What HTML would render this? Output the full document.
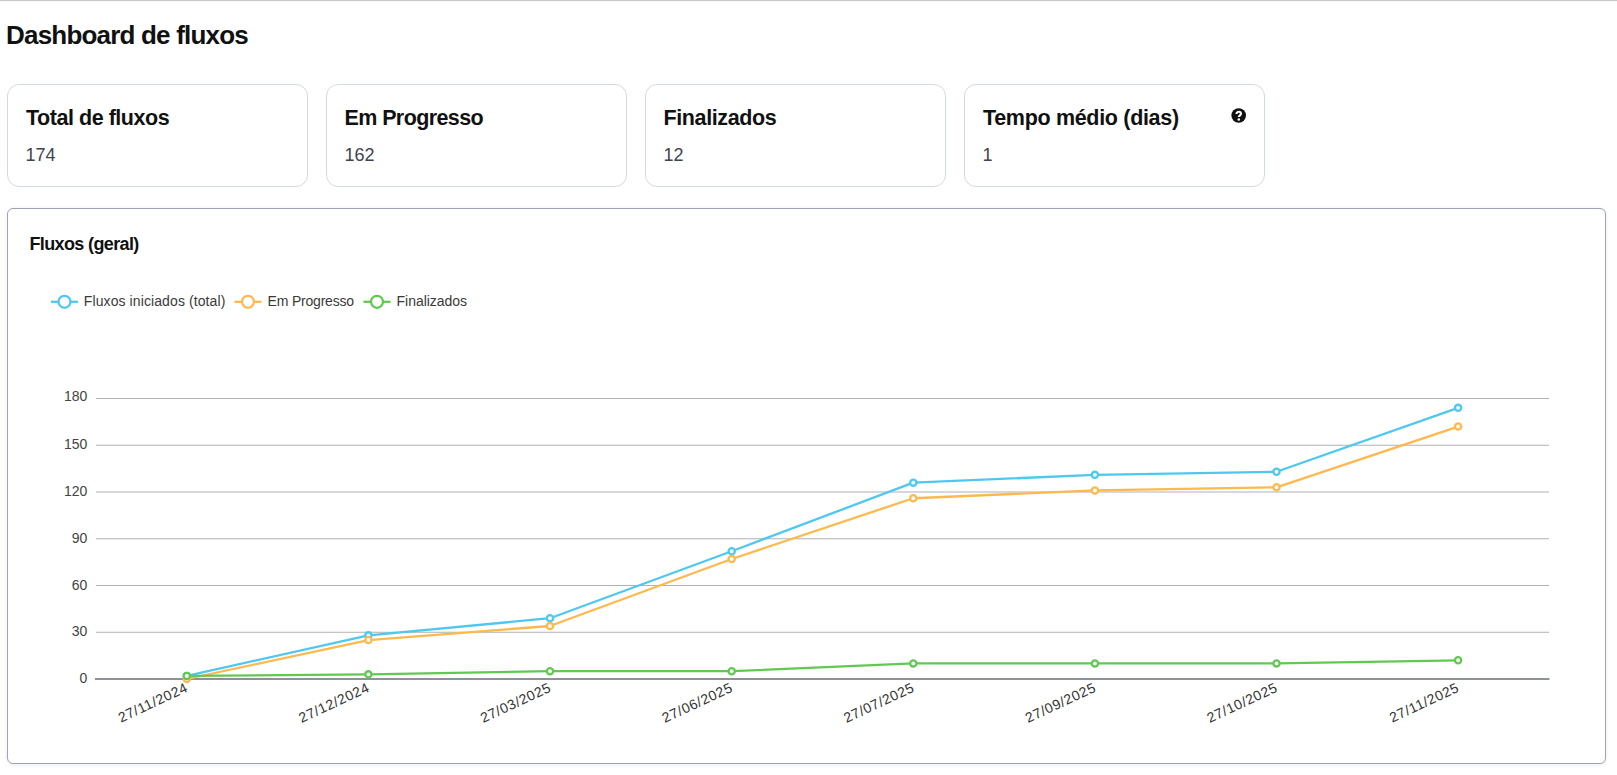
<!DOCTYPE html>
<html>
<head>
<meta charset="utf-8">
<style>
html,body{margin:0;padding:0;background:#fff;width:1617px;height:775px;overflow:hidden;position:relative;font-family:"Liberation Sans",sans-serif;}
.topline{position:absolute;left:0;top:0;width:1617px;height:1px;background:#c8c8c8;}
.topline2{position:absolute;left:0;top:1px;width:1617px;height:1px;background:#fafafa;}
h1{position:absolute;margin:0;left:6px;top:22px;font-size:26px;font-weight:bold;color:#111;letter-spacing:-0.8px;line-height:1;white-space:nowrap;}
.card{position:absolute;top:84px;width:299px;height:101px;border:1px solid #d3d9e3;border-radius:12px;background:#fff;}
.ctitle{position:absolute;left:18px;top:23px;font-size:21.5px;font-weight:bold;color:#111;line-height:1;white-space:nowrap;}
.cval{position:absolute;left:17.6px;top:61px;font-size:18px;color:#40444c;line-height:1;white-space:nowrap;}
.chart{position:absolute;left:7px;top:208px;width:1597px;height:554px;border:1px solid #9ca4b5;border-radius:6px;background:#fff;box-shadow:0 1px 4px rgba(0,0,0,0.08);}
.chtitle{position:absolute;left:21.4px;top:25.5px;font-size:18px;font-weight:bold;color:#111;line-height:1;letter-spacing:-0.62px;white-space:nowrap;}
svg{position:absolute;left:0;top:0;}
</style>
</head>
<body>
<div class="topline"></div><div class="topline2"></div>
<h1>Dashboard de fluxos</h1>
<div class="card" style="left:7px;"><div class="ctitle" style="letter-spacing:-0.46px">Total de fluxos</div><div class="cval">174</div></div>
<div class="card" style="left:326px;"><div class="ctitle" style="left:17.5px;letter-spacing:-0.6px">Em Progresso</div><div class="cval">162</div></div>
<div class="card" style="left:645px;"><div class="ctitle" style="left:17.5px;letter-spacing:-0.38px">Finalizados</div><div class="cval">12</div></div>
<div class="card" style="left:964px;"><div class="ctitle" style="letter-spacing:-0.32px">Tempo médio (dias)</div><div class="cval">1</div>
<svg style="left:265px;top:22px" width="18" height="18" viewBox="0 0 18 18"><circle cx="8.7" cy="8.5" r="7.3" fill="#111"/><path d="M6.5 7.1 C6.5 5.7 7.5 4.8 8.8 4.8 C10.1 4.8 11.0 5.7 11.0 6.8 C11.0 8.2 8.8 8.5 8.8 10.1" fill="none" stroke="#fff" stroke-width="2.1"/><circle cx="8.8" cy="12.5" r="1.25" fill="#fff"/></svg>
</div>
<div class="chart"><div class="chtitle">Fluxos (geral)</div></div>
<svg width="1617" height="775" viewBox="0 0 1617 775">
  <g stroke="#aeb1b7" stroke-width="1" fill="none"><line x1="96" y1="398.5" x2="1549" y2="398.5"/><line x1="96" y1="445.25" x2="1549" y2="445.25"/><line x1="96" y1="492.0" x2="1549" y2="492.0"/><line x1="96" y1="538.75" x2="1549" y2="538.75"/><line x1="96" y1="585.5" x2="1549" y2="585.5"/><line x1="96" y1="632.25" x2="1549" y2="632.25"/></g>
  <line x1="95" y1="679.0" x2="1549.5" y2="679.0" stroke="#8e9198" stroke-width="1.9"/>
  <g font-family="Liberation Sans" font-size="14" fill="#444" text-anchor="end"><text x="87.3" y="400.5">180</text><text x="87.3" y="449.25">150</text><text x="87.3" y="496.0">120</text><text x="87.3" y="542.75">90</text><text x="87.3" y="589.5">60</text><text x="87.3" y="636.25">30</text><text x="87.3" y="683.0">0</text></g>
  <g font-family="Liberation Sans" font-size="14" fill="#333" text-anchor="end" letter-spacing="0.6"><text transform="translate(186.8,686.4) rotate(-25)" y="5">27/11/2024</text><text transform="translate(368.4,686.4) rotate(-25)" y="5">27/12/2024</text><text transform="translate(550,686.4) rotate(-25)" y="5">27/03/2025</text><text transform="translate(731.7,686.4) rotate(-25)" y="5">27/06/2025</text><text transform="translate(913.3,686.4) rotate(-25)" y="5">27/07/2025</text><text transform="translate(1094.9,686.4) rotate(-25)" y="5">27/09/2025</text><text transform="translate(1276.5,686.4) rotate(-25)" y="5">27/10/2025</text><text transform="translate(1458.1,686.4) rotate(-25)" y="5">27/11/2025</text></g>
  <g fill="none" stroke-width="2.3" stroke-linejoin="round"><polyline stroke="#4ec8ee" points="186.8,675.88 368.4,635.37 550,618.23 731.7,551.22 913.3,482.65 1094.9,474.86 1276.5,471.74 1458.1,407.85"/></g><g fill="#fff" stroke-width="2.3"><g stroke="#4ec8ee"><circle cx="186.8" cy="675.88" r="3.1"/><circle cx="368.4" cy="635.37" r="3.1"/><circle cx="550" cy="618.23" r="3.1"/><circle cx="731.7" cy="551.22" r="3.1"/><circle cx="913.3" cy="482.65" r="3.1"/><circle cx="1094.9" cy="474.86" r="3.1"/><circle cx="1276.5" cy="471.74" r="3.1"/><circle cx="1458.1" cy="407.85" r="3.1"/></g></g>
  <g fill="none" stroke-width="2.3" stroke-linejoin="round"><polyline stroke="#fdb94e" points="186.8,679.0 368.4,640.04 550,626.02 731.7,559.01 913.3,498.23 1094.9,490.44 1276.5,487.32 1458.1,426.55"/></g><g fill="#fff" stroke-width="2.3"><g stroke="#fdb94e"><circle cx="186.8" cy="679.0" r="3.1"/><circle cx="368.4" cy="640.04" r="3.1"/><circle cx="550" cy="626.02" r="3.1"/><circle cx="731.7" cy="559.01" r="3.1"/><circle cx="913.3" cy="498.23" r="3.1"/><circle cx="1094.9" cy="490.44" r="3.1"/><circle cx="1276.5" cy="487.32" r="3.1"/><circle cx="1458.1" cy="426.55" r="3.1"/></g></g>
  <g fill="none" stroke-width="2.3" stroke-linejoin="round"><polyline stroke="#61c952" points="186.8,675.88 368.4,674.33 550,671.21 731.7,671.21 913.3,663.42 1094.9,663.42 1276.5,663.42 1458.1,660.3"/></g><g fill="#fff" stroke-width="2.3"><g stroke="#61c952"><circle cx="186.8" cy="675.88" r="3.1"/><circle cx="368.4" cy="674.33" r="3.1"/><circle cx="550" cy="671.21" r="3.1"/><circle cx="731.7" cy="671.21" r="3.1"/><circle cx="913.3" cy="663.42" r="3.1"/><circle cx="1094.9" cy="663.42" r="3.1"/><circle cx="1276.5" cy="663.42" r="3.1"/><circle cx="1458.1" cy="660.3" r="3.1"/></g></g>
  <g stroke-width="2.3" fill="#fff">
    <line x1="51" y1="301.8" x2="78" y2="301.8" stroke="#4ec8ee"/><circle cx="64.5" cy="301.8" r="6" stroke="#4ec8ee"/>
    <line x1="234.5" y1="301.8" x2="261.5" y2="301.8" stroke="#fdb94e"/><circle cx="248" cy="301.8" r="6" stroke="#fdb94e"/>
    <line x1="363.5" y1="301.8" x2="390.5" y2="301.8" stroke="#61c952"/><circle cx="377" cy="301.8" r="6" stroke="#61c952"/>
  </g>
  <g font-family="Liberation Sans" font-size="14" fill="#3a3a3a">
    <text x="83.8" y="306" letter-spacing="0.1">Fluxos iniciados (total)</text>
    <text x="267.6" y="306" letter-spacing="-0.2">Em Progresso</text>
    <text x="396.6" y="306" letter-spacing="-0.05">Finalizados</text>
  </g>
</svg>
</body>
</html>
